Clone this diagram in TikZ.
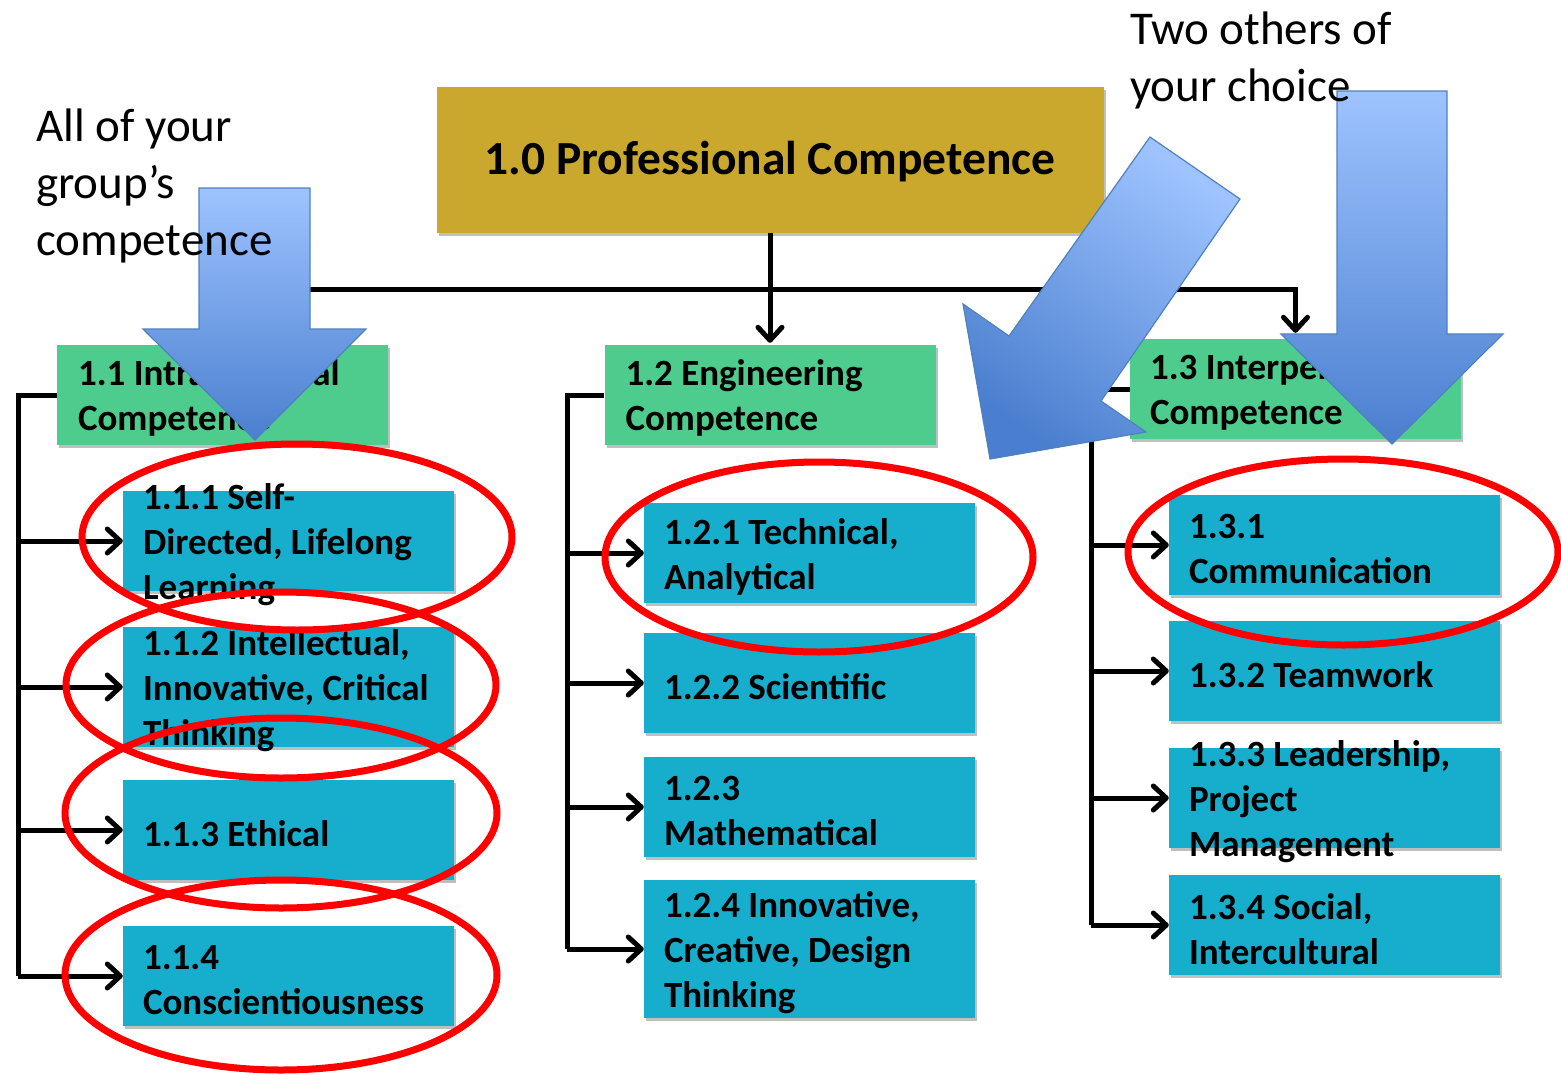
\documentclass[tikz,border=0pt]{standalone}
\usepackage{fontspec}
\setmainfont{Carlito}
\usetikzlibrary{arrows.meta,shadows}
\definecolor{goldbox}{HTML}{C9A82D}
\definecolor{greenbox}{HTML}{4DCC8E}
\definecolor{tealbox}{HTML}{16AECC}
\definecolor{arrowtop}{HTML}{9EC3FF}
\definecolor{arrowbot}{HTML}{4A7FCF}
\definecolor{arrowline}{HTML}{4F81BD}
\begin{document}
\begin{tikzpicture}[x=1pt,y=-1pt,
  box/.style={draw=none, inner sep=0pt, minimum width=331pt, minimum height=100pt,
    drop shadow={shadow xshift=2pt, shadow yshift=-3pt, opacity=0.25, fill=black}},
  lvlzero/.style={box, fill=goldbox, minimum width=667pt, minimum height=146pt},
  lvlone/.style={box, fill=greenbox},
  lvltwo/.style={box, fill=tealbox},
  lbl/.style={inner sep=0pt, align=left, anchor=west, yshift=-4pt, font=\fontsize{37}{45}\selectfont\bfseries},
  conn/.style={line width=5pt, draw=black},
  tipped/.style={-{Straight Barb[length=13pt,width=24pt,round]}},
  bigarrow/.style={draw=arrowline, line width=1.2pt, top color=arrowtop, bottom color=arrowbot},
  ring/.style={draw=red, line width=7pt},
  note/.style={inner sep=0pt, align=left, anchor=north west, font=\fontsize{47}{57}\selectfont}
]
\useasboundingbox (0,0) rectangle (1561,1074);

% boxes
\node[lvlzero] (top) at (770,160) {};
\node[lvlone] (n11) at (222.5,395) {};
\node[lvlone] (n12) at (770,395) {};
\node[lvlone] (n13) at (1295.5,389) {};

\node[lvltwo] (b111) at (288.5,541) {};
\node[lvltwo, minimum height=120pt] (b112) at (288.5,687) {};
\node[lvltwo] (b113) at (288.5,830) {};
\node[lvltwo] (b114) at (288.5,976) {};

\node[lvltwo] (b121) at (809.5,553) {};
\node[lvltwo] (b122) at (809.5,683) {};
\node[lvltwo] (b123) at (809.5,807) {};
\node[lvltwo, minimum height=138pt] (b124) at (809.5,949) {};

\node[lvltwo] (b131) at (1334.5,545) {};
\node[lvltwo] (b132) at (1334.5,671) {};
\node[lvltwo] (b133) at (1334.5,798) {};
\node[lvltwo] (b134) at (1334.5,925) {};

% connectors
\coordinate (bus) at (770,289);
\draw[conn,tipped] (top.south) -- ([yshift=2pt]n12.north);
\draw[conn,tipped] (bus) -| (n11.north);
\draw[conn,tipped] (bus) -| ([yshift=6pt]n13.north);

\coordinate (k1) at (18,395);
\draw[conn] (n11.west) -- (k1) -- (k1 |- b114.west);
\foreach \b in {b111,b112,b113,b114}
  \draw[conn,tipped] (k1 |- \b.west) -- (\b.west);

\coordinate (k2) at (567,395);
\draw[conn] (n12.west) -- (k2) -- (k2 |- b124.west);
\foreach \b in {b121,b122,b123,b124}
  \draw[conn,tipped] (k2 |- \b.west) -- (\b.west);

\coordinate (k3) at (1091,389);
\draw[conn] (n13.west) -- (k3) -- (k3 |- b134.west);
\foreach \b in {b131,b132,b133,b134}
  \draw[conn,tipped] (k3 |- \b.west) -- (\b.west);

% texts
\node[inner sep=0pt, yshift=-2pt, font=\fontsize{47.5}{57}\selectfont\bfseries] (ttop) at (top.center) {1.0 Professional Competence};
\node[lbl, yshift=1pt] (t11) at ([xshift=21pt]n11.west) {1.1 Intrapersonal\\Competence};
\node[lbl, yshift=1pt] (t12) at ([xshift=21pt]n12.west) {1.2 Engineering\\Competence};
\node[lbl, yshift=1pt] (t13) at ([xshift=20pt]n13.west) {1.3 Interpersonal\\Competence};

\node[lbl] (t111) at ([xshift=20pt]b111.west) {1.1.1 Self-\\Directed, Lifelong\\Learning};
\node[lbl] (t112) at ([xshift=20pt]b112.west) {1.1.2 Intellectual,\\Innovative, Critical\\Thinking};
\node[lbl] (t113) at ([xshift=20pt]b113.west) {1.1.3 Ethical};
\node[lbl] (t114) at ([xshift=20pt]b114.west) {1.1.4\\Conscientiousness};

\node[lbl] (t121) at ([xshift=20pt]b121.west) {1.2.1 Technical,\\Analytical};
\node[lbl] (t122) at ([xshift=20pt]b122.west) {1.2.2 Scientific};
\node[lbl] (t123) at ([xshift=20pt]b123.west) {1.2.3\\Mathematical};
\node[lbl] (t124) at ([xshift=20pt]b124.west) {1.2.4 Innovative,\\Creative, Design\\Thinking};

\node[lbl] (t131) at ([xshift=20pt]b131.west) {1.3.1\\Communication};
\node[lbl] (t132) at ([xshift=20pt]b132.west) {1.3.2 Teamwork};
\node[lbl] (t133) at ([xshift=20pt]b133.west) {1.3.3 Leadership,\\Project\\Management};
\node[lbl] (t134) at ([xshift=20pt]b134.west) {1.3.4 Social,\\Intercultural};

% big block arrows
\draw[bigarrow] (199,188) -- (310,188) -- (310,329) -- (366,329) -- (255,440) -- (143,329) -- (199,329) -- cycle;
\draw[bigarrow] (1337,91) -- (1447,91) -- (1447,334) -- (1503,334) -- (1392,444) -- (1281,334) -- (1337,334) -- cycle;
\draw[bigarrow, shading angle=-35] (1150,137) -- (1240,199) -- (1101,401) -- (1146,432) -- (990,459) -- (963,304) -- (1009,336) -- cycle;

% notes
\node[note] (noteA) at (36,109) {All of your\\group’s\\competence};
\node[note] (noteB) at (1130,12) {Two others of\\your choice};

% red rings
\draw[ring] (297,537) ellipse [x radius=215pt, y radius=93pt];
\draw[ring] (281,685) ellipse [x radius=215pt, y radius=93pt];
\draw[ring] (281,813) ellipse [x radius=216pt, y radius=95pt];
\draw[ring] (281,975) ellipse [x radius=216pt, y radius=95pt];
\draw[ring] (819,557) ellipse [x radius=214pt, y radius=95pt];
\draw[ring] (1343,552) ellipse [x radius=215pt, y radius=93pt];
\end{tikzpicture}
\end{document}
